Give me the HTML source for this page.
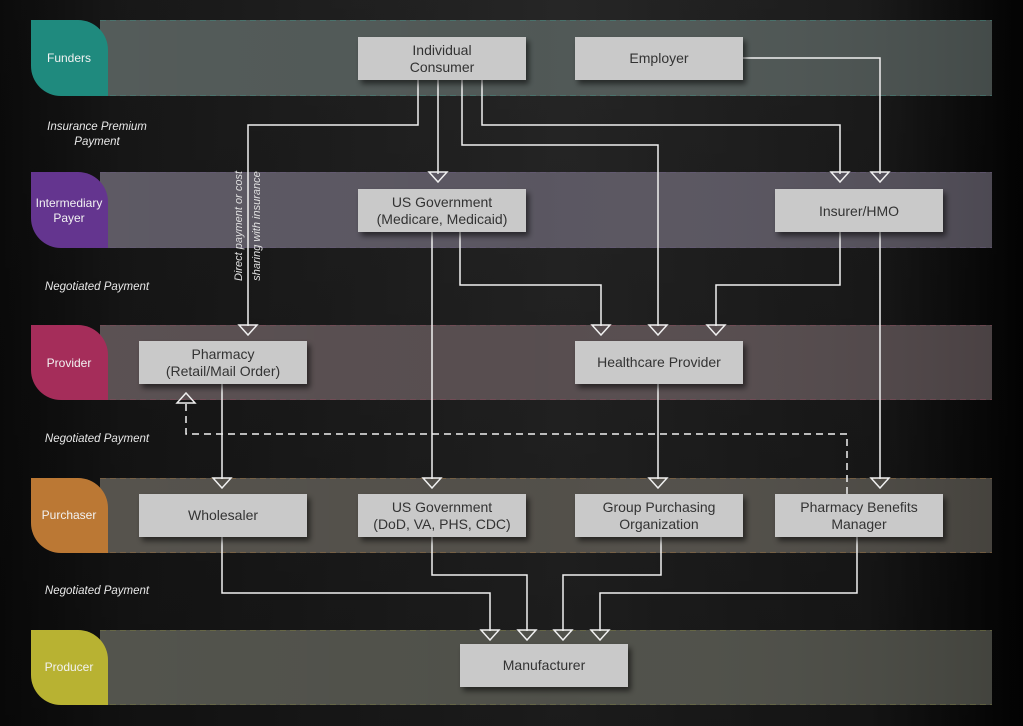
<!DOCTYPE html>
<html><head><meta charset="utf-8"><style>
html,body{margin:0;padding:0;width:1023px;height:726px;overflow:hidden;background:#111}
svg{display:block}
text{font-family:"Liberation Sans",sans-serif}
</style></head><body>
<svg width="1023" height="726" viewBox="0 0 1023 726" xmlns="http://www.w3.org/2000/svg">
<defs>
<linearGradient id="bg" x1="0" y1="0" x2="1" y2="0">
<stop offset="0" stop-color="#0c0c0c"/><stop offset="0.12" stop-color="#1a1a1a"/>
<stop offset="0.55" stop-color="#2a2a2a"/><stop offset="0.85" stop-color="#1e1e1e"/><stop offset="1" stop-color="#030303"/>
</linearGradient>
<linearGradient id="bgv" x1="0" y1="0" x2="0" y2="1">
<stop offset="0" stop-color="#000" stop-opacity="0.1"/><stop offset="1" stop-color="#000" stop-opacity="0.35"/>
</linearGradient>
<linearGradient id="shade" x1="0" y1="0" x2="1" y2="0">
<stop offset="0" stop-color="#fff" stop-opacity="0.04"/><stop offset="0.5" stop-color="#fff" stop-opacity="0.02"/><stop offset="1" stop-color="#000" stop-opacity="0.12"/>
</linearGradient>
<filter id="sh" x="-10%" y="-20%" width="130%" height="160%"><feDropShadow dx="3" dy="4" stdDeviation="3" flood-color="#000" flood-opacity="0.55"/></filter>
</defs>
<rect width="1023" height="726" fill="url(#bg)"/>
<rect width="1023" height="726" fill="url(#bgv)"/>

<g>
<rect x="100" y="20" width="892" height="76" fill="#4d5553"/>
<rect x="100" y="172" width="892" height="76" fill="#57535e"/>
<rect x="100" y="325" width="892" height="75" fill="#544a4c"/>
<rect x="100" y="478" width="892" height="75" fill="#4f4c46"/>
<rect x="100" y="630" width="892" height="75" fill="#4c4d46"/>
<rect x="100" y="20" width="892" height="76" fill="url(#shade)"/>
<rect x="100" y="172" width="892" height="76" fill="url(#shade)"/>
<rect x="100" y="325" width="892" height="75" fill="url(#shade)"/>
<rect x="100" y="478" width="892" height="75" fill="url(#shade)"/>
<rect x="100" y="630" width="892" height="75" fill="url(#shade)"/>
<g fill="none" stroke-width="1" stroke-dasharray="6,4" opacity="0.5">
<path d="M100 20.5H992M100 95.5H992" stroke="#3f8a80"/>
<path d="M100 172.5H992M100 247.5H992" stroke="#6a5a80"/>
<path d="M100 325.5H992M100 399.5H992" stroke="#8a4a5a"/>
<path d="M100 478.5H992M100 552.5H992" stroke="#9a7040"/>
<path d="M100 630.5H992M100 704.5H992" stroke="#7a7a40"/>
</g>
</g>

<g>
<path d="M31 20H78A30 30 0 0 1 108 50V96H61A30 30 0 0 1 31 66Z" fill="#1f8a7e"/>
<path d="M31 172H78A30 30 0 0 1 108 202V248H61A30 30 0 0 1 31 218Z" fill="#64358f"/>
<path d="M31 325H78A30 30 0 0 1 108 355V400H61A30 30 0 0 1 31 370Z" fill="#a52d5a"/>
<path d="M31 478H78A30 30 0 0 1 108 508V553H61A30 30 0 0 1 31 523Z" fill="#bb7834"/>
<path d="M31 630H78A30 30 0 0 1 108 660V705H61A30 30 0 0 1 31 675Z" fill="#b8b232"/>
</g>
<g fill="#f2f2f2" font-size="12" text-anchor="middle">
<text x="69" y="62">Funders</text>
<text x="69" y="207">Intermediary</text>
<text x="69" y="222">Payer</text>
<text x="69" y="367">Provider</text>
<text x="69" y="519">Purchaser</text>
<text x="69" y="671">Producer</text>
</g>
<g fill="#e8e8e8" font-size="11.5" font-style="italic" text-anchor="middle">
<text x="97" y="130">Insurance Premium</text>
<text x="97" y="145">Payment</text>
<text x="97" y="290">Negotiated Payment</text>
<text x="97" y="442">Negotiated Payment</text>
<text x="97" y="594">Negotiated Payment</text>
</g>
<g fill="#e0e0e0" font-size="11" font-style="italic" text-anchor="middle">
<text transform="translate(242,226) rotate(-90)">Direct payment or cost</text>
<text transform="translate(260,226) rotate(-90)">sharing with insurance</text>
</g>

<g fill="none" stroke="#f0f0f0" stroke-width="1.5">
<path d="M418 80V125H248V326"/>
<path d="M438 80V174"/>
<path d="M482 80V125H840V174"/>
<path d="M462 80V145H658V326"/>
<path d="M743 58H880V174"/>
<path d="M460 232V285H601V326"/>
<path d="M432 232V479"/>
<path d="M840 232V285H716V326"/>
<path d="M880 232V479"/>
<path d="M222 384V479"/>
<path d="M658 384V479"/>
<path d="M222 537V593H490V631"/>
<path d="M432 537V575H527V631"/>
<path d="M661 537V575H563V631"/>
<path d="M857 537V593H600V631"/>
<path d="M847 494V434H186V403" stroke-dasharray="7,5"/>
</g>
<g fill="none" stroke="#f0f0f0" stroke-width="1.5" stroke-linejoin="miter">
<path d="M239 325H257L248 335Z"/>
<path d="M429 172H447L438 182Z"/>
<path d="M831 172H849L840 182Z"/>
<path d="M871 172H889L880 182Z"/>
<path d="M592 325H610L601 335Z"/>
<path d="M649 325H667L658 335Z"/>
<path d="M707 325H725L716 335Z"/>
<path d="M213 478H231L222 488Z"/>
<path d="M423 478H441L432 488Z"/>
<path d="M649 478H667L658 488Z"/>
<path d="M871 478H889L880 488Z"/>
<path d="M481 630H499L490 640Z"/>
<path d="M518 630H536L527 640Z"/>
<path d="M554 630H572L563 640Z"/>
<path d="M591 630H609L600 640Z"/>
<path d="M177 403H195L186 393Z"/>
</g>

<g fill="#c9c9c9" filter="url(#sh)">
<rect x="358" y="37" width="168" height="43"/>
<rect x="575" y="37" width="168" height="43"/>
<rect x="358" y="189" width="168" height="43"/>
<rect x="775" y="189" width="168" height="43"/>
<rect x="139" y="341" width="168" height="43"/>
<rect x="575" y="341" width="168" height="43"/>
<rect x="139" y="494" width="168" height="43"/>
<rect x="358" y="494" width="168" height="43"/>
<rect x="575" y="494" width="168" height="43"/>
<rect x="775" y="494" width="168" height="43"/>
<rect x="460" y="644" width="168" height="43"/>
</g>
<g fill="#333" font-size="14" text-anchor="middle">
<text x="442" y="55">Individual</text><text x="442" y="72">Consumer</text>
<text x="659" y="63">Employer</text>
<text x="442" y="207">US Government</text><text x="442" y="224">(Medicare, Medicaid)</text>
<text x="859" y="216">Insurer/HMO</text>
<text x="223" y="359">Pharmacy</text><text x="223" y="376">(Retail/Mail Order)</text>
<text x="659" y="367">Healthcare Provider</text>
<text x="223" y="520">Wholesaler</text>
<text x="442" y="512">US Government</text><text x="442" y="529">(DoD, VA, PHS, CDC)</text>
<text x="659" y="512">Group Purchasing</text><text x="659" y="529">Organization</text>
<text x="859" y="512">Pharmacy Benefits</text><text x="859" y="529">Manager</text>
<text x="544" y="670">Manufacturer</text>
</g>
</svg>
</body></html>
